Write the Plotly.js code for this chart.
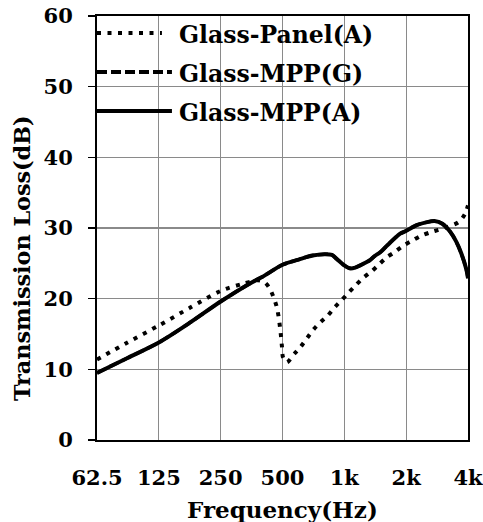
<!DOCTYPE html>
<html>
<head>
<meta charset="utf-8">
<script src="https://cdn.plot.ly/plotly-3.0.1.min.js"></script>
<style>
html, body { margin: 0; padding: 0; background: #fff; }
#chart { width: 483px; height: 522px; }
</style>
</head>
<body>
<div id="chart"></div>
<script>
// Frequency tick positions and labels (Hz)
const tickFreqs = [62.5, 125, 250, 500, 1000, 2000, 4000];
const tickLabels = ['62.5', '125', '250', '500', '1k', '2k', '4k'];

// Series names
const seriesNames = ['Glass-Panel(A)', 'Glass-MPP(G)', 'Glass-MPP(A)'];

// Glass-Panel(A) (dotted)
const freqPanel = [62.5, 88, 125, 177, 250, 320, 380, 410, 430, 451, 469, 479, 486, 492, 497, 503, 525, 571, 613, 658, 706, 767, 830, 898, 971, 1045, 1136, 1229, 1348, 1470, 1601, 1759, 1937, 2136, 2363, 2634, 2923, 3588, 3855, 4000];
const tlPanel   = [11.4, 13.8, 16.2, 18.7, 21.1, 22.1, 22.6, 22.3, 21.6, 20.3, 18.8, 17.4, 16.0, 14.6, 13.2, 11.7, 11.0, 12.2, 13.2, 14.4, 15.6, 16.7, 17.6, 18.8, 19.8, 20.8, 21.9, 22.9, 23.8, 24.8, 25.8, 26.6, 27.5, 28.2, 28.9, 29.4, 29.8, 30.8, 31.9, 33.2];

// Glass-MPP(G) (dashed) and Glass-MPP(A) (solid)
const freqMPP = [62.5, 88, 125, 177, 250, 354, 400, 500, 608, 700, 800, 870, 920, 990, 1060, 1130, 1250, 1325, 1400, 1500, 1600, 1870, 2000, 2250, 2500, 2750, 3000, 3270, 3500, 3700, 3930, 4000];
const tlMPPG   = [9.5, 11.6, 13.8, 16.6, 19.6, 22.3, 23.1, 24.8, 25.6, 26.1, 26.3, 26.2, 25.6, 24.8, 24.3, 24.4, 25.0, 25.4, 26.0, 26.6, 27.4, 29.2, 29.6, 30.4, 30.8, 31.0, 30.6, 29.5, 28.1, 26.5, 24.1, 22.9];
const tlMPPA   = [9.5, 11.6, 13.8, 16.6, 19.6, 22.3, 23.1, 24.8, 25.6, 26.1, 26.3, 26.2, 25.6, 24.8, 24.3, 24.4, 25.0, 25.4, 26.0, 26.6, 27.4, 29.2, 29.6, 30.4, 30.8, 31.0, 30.6, 29.5, 28.1, 26.5, 24.1, 22.9];

const FONT = 'DejaVu Serif';

const traces = [
  { x: freqMPP, y: tlMPPG, name: seriesNames[1], mode: 'lines', line: { color: '#000', width: 3.5, dash: '10px,4px', shape: 'spline', smoothing: 0.8 } },
  { x: freqMPP, y: tlMPPA, name: seriesNames[2], mode: 'lines', line: { color: '#000', width: 4, shape: 'spline', smoothing: 0.8 } },
  { x: freqPanel, y: tlPanel, name: seriesNames[0], mode: 'lines', line: { color: '#000', width: 4, dash: '4px,6.5px', shape: 'spline', smoothing: 0.8 } }
];

// manual legend (paper coordinates)
const legY = [0.960, 0.868, 0.776];
const legX1 = [0.175, 0.202, 0.202];
const legDash = ['4px,6.5px', '10px,4px', 'solid'];
const shapes = legY.map((yy, i) => ({
  type: 'line', xref: 'paper', yref: 'paper', x0: 0.0, x1: legX1[i], y0: yy, y1: yy,
  line: { color: '#000', width: 4, dash: legDash[i] }
}));
const annotations = legY.map((yy, i) => ({
  xref: 'paper', yref: 'paper', x: 0.216, y: yy - 0.004, xanchor: 'left', yanchor: 'middle',
  text: '<b>' + seriesNames[i] + '</b>', showarrow: false,
  font: { family: FONT, size: 23.5, color: '#000' }
}));
annotations.push({
  xref: 'paper', yref: 'paper', x: -0.204, y: 0.43, xanchor: 'center', yanchor: 'middle',
  textangle: -90, text: '<b>Transmission Loss(dB)</b>', showarrow: false,
  font: { family: FONT, size: 22.3, color: '#000' }
});
annotations.push({
  xref: 'paper', yref: 'paper', x: 0.5, y: -0.165, xanchor: 'center', yanchor: 'middle',
  text: '<b>Frequency(Hz)</b>', showarrow: false,
  font: { family: FONT, size: 23, color: '#000' }
});

const layout = {
  width: 483, height: 522,
  margin: { l: 97, r: 15, t: 16, b: 82, pad: 0 },
  paper_bgcolor: '#fff', plot_bgcolor: '#fff',
  showlegend: false,
  font: { family: FONT, color: '#000' },
  xaxis: {
    type: 'log',
    range: [Math.log10(62.5), Math.log10(4000)],
    tickmode: 'array', tickvals: tickFreqs, ticktext: tickLabels.map(t => '<b>' + t + '</b>'),
    tickfont: { family: FONT, size: 21, color: '#000' },
    ticks: 'outside', ticklen: 18, tickcolor: 'rgba(0,0,0,0)',
    ticklabeloverflow: 'allow',
    showgrid: true, gridcolor: '#8a8a8a', gridwidth: 1.3,
    showline: true, linecolor: '#000', linewidth: 2, mirror: true,
    zeroline: false, automargin: false
  },
  yaxis: {
    range: [0, 60], tickmode: 'linear', tick0: 0, dtick: 10,
    tickfont: { family: FONT, size: 21, color: '#000' },
    ticks: 'outside', ticklen: 7, tickwidth: 1.5, tickcolor: '#000', ticklabelstandoff: 11,
    showgrid: true, gridcolor: '#8a8a8a', gridwidth: 1.3,
    showline: true, linecolor: '#000', linewidth: 2, mirror: true,
    zeroline: false, automargin: false,
    tickprefix: '<b>', ticksuffix: '</b>'
  },
  shapes: shapes,
  annotations: annotations
};

Plotly.newPlot('chart', traces, layout, { staticPlot: true, displayModeBar: false });
</script>
</body>
</html>
